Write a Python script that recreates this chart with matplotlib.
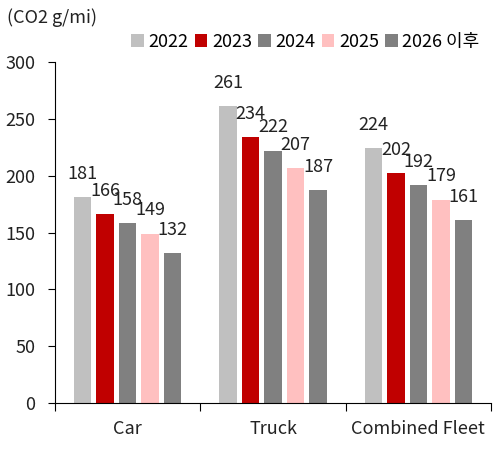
import numpy as np
import matplotlib.pyplot as plt

plt.rcParams['font.family'] = ['Noto Sans CJK KR', 'DejaVu Sans']

categories = ['Car', 'Truck', 'Combined Fleet']
series_names = ['2022', '2023', '2024', '2025', '2026 이후']
values = {
    '2022': [181, 261, 224],
    '2023': [166, 234, 202],
    '2024': [158, 222, 192],
    '2025': [149, 207, 179],
    '2026 이후': [132, 187, 161],
}
colors = ['#C0C0C0', '#C00000', '#808080', '#FFC0C0', '#808080']

fs = 13
fig = plt.figure(figsize=(4.93, 4.5), dpi=100)
ax = fig.add_axes([0.1116, 0.1044, 0.8844, 0.7578])

x = np.arange(len(categories))
step = 0.155
width = 0.12
for i, name in enumerate(series_names):
    pos = x + (i - 2) * step
    bars = ax.bar(pos, values[name], width=width, color=colors[i], label=name)
    for b, v in zip(bars, values[name]):
        ax.text(b.get_x() + b.get_width() / 2, v + 16, str(v),
                ha='center', va='baseline', fontsize=fs, color='#222222')

ax.set_xlim(-0.5, 2.5)
ax.set_ylim(0, 300)
ax.set_yticks(range(0, 301, 50))
ax.set_xticks([-0.5, 0.5, 1.5, 2.5], minor=False)
ax.set_xticklabels([])
ax.set_xticks(x, minor=True)
ax.set_xticklabels(categories, minor=True)
ax.tick_params(axis='x', which='minor', length=0, pad=12, labelsize=fs, labelcolor='#222222')
ax.tick_params(axis='x', which='major', length=6, direction='out')
ax.tick_params(axis='y', length=5, direction='out', pad=9, labelsize=fs, labelcolor='#222222')

for s in ['top', 'right']:
    ax.spines[s].set_visible(False)

fig.text(0.015, 0.96, '(CO2 g/mi)', fontsize=fs, color='#222222', va='center')
ax.legend(loc='center left', bbox_to_anchor=(0.175, 1.06), ncol=5, frameon=False,
          handlelength=0.7, handleheight=0.7, handletextpad=0.25, columnspacing=0.35,
          fontsize=fs, borderaxespad=0, borderpad=0)

fig.savefig('out.png', dpi=100)
